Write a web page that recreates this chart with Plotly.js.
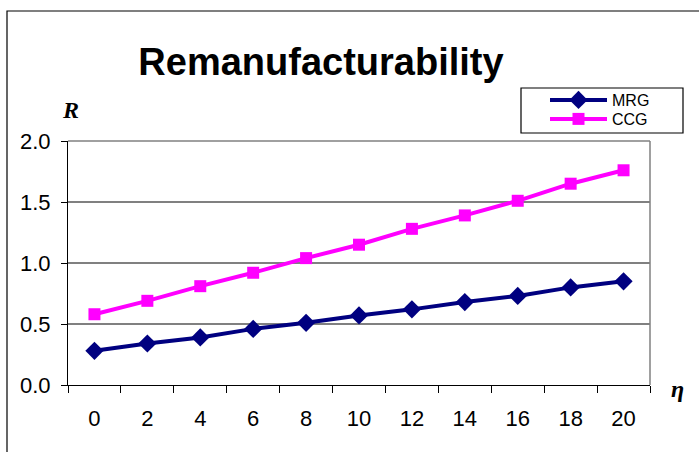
<!DOCTYPE html>
<html><head><meta charset="utf-8">
<script src="https://cdn.plot.ly/plotly-3.0.1.min.js"></script>
<style>html,body{margin:0;padding:0;background:#fff;}#chart{width:699px;height:452px;}</style>
</head><body><div id="chart"></div>
<script>
const categories = ['0','2','4','6','8','10','12','14','16','18','20'];
const mrgValues = [0.28,0.34,0.39,0.46,0.51,0.57,0.62,0.68,0.73,0.80,0.85];
const ccgValues = [0.58,0.69,0.81,0.92,1.04,1.15,1.28,1.39,1.51,1.65,1.76];
const yTickVals = [0,0.5,1.0,1.5,2.0];
const yTickText = ['0.0','0.5','1.0','1.5','2.0'];

const L=68,R=49,T=141,B=67,W=699-L-R,H=452-T-B;
const px=x=>(x-L)/W, py=y=>1-(y-T)/H;

const traces=[
 {x:categories,y:mrgValues,name:'MRG',type:'scatter',mode:'lines+markers',legend:'legend',
  line:{color:'#000080',width:4},marker:{symbol:'diamond',size:14,color:'#000080'}},
 {x:categories,y:ccgValues,name:'CCG',type:'scatter',mode:'lines+markers',legend:'legend2',
  line:{color:'#FF00FF',width:4},marker:{symbol:'square',size:12,color:'#FF00FF'}}
];
const legFont={size:16,family:'Liberation Sans, Arial'};
const layout={
 width:699,height:452,margin:{l:L,r:R,t:T,b:B},
 paper_bgcolor:'#fff',plot_bgcolor:'#fff',showlegend:true,
 font:{family:'Liberation Sans, Arial, sans-serif',color:'#000'},
 title:{text:'<b>Remanufacturability</b>',font:{size:38,color:'#000'},xref:'container',x:321/699,xanchor:'center',y:1-62/452,yanchor:'middle'},
 xaxis:{type:'category',range:[-0.5,10.5],tickson:'boundaries',ticks:'outside',ticklen:7,tickcolor:'#000',
  showline:true,linecolor:'#000',linewidth:1,showgrid:false,zeroline:false,
  tickfont:{size:22},ticklabelstandoff:14,fixedrange:true},
 yaxis:{range:[0,2],tickvals:yTickVals,ticktext:yTickText,ticks:'outside',ticklen:6,tickcolor:'#000',
  showline:true,linecolor:'#000',linewidth:1,showgrid:true,gridcolor:'#808080',gridwidth:1.3,zeroline:false,
  tickfont:{size:22},ticklabelstandoff:6,fixedrange:true},
 legend:{x:px(545),y:py(100),xanchor:'left',yanchor:'middle',borderwidth:0,bgcolor:'rgba(0,0,0,0)',
  font:legFont,itemwidth:57},
 legend2:{x:px(545),y:py(119),xanchor:'left',yanchor:'middle',borderwidth:0,bgcolor:'rgba(0,0,0,0)',
  font:legFont,itemwidth:57},
 shapes:[
  {type:'rect',xref:'paper',yref:'paper',x0:px(7),x1:px(720),y0:py(470),y1:py(11),line:{color:'#000',width:1.2}},
  {type:'rect',xref:'paper',yref:'paper',x0:px(521),x1:px(683),y0:py(133),y1:py(88),line:{color:'#000',width:1.2},fillcolor:'rgba(0,0,0,0)'},
  {type:'line',xref:'paper',yref:'paper',x0:1,x1:1,y0:0,y1:1,line:{color:'#808080',width:1.5}},
  {type:'line',xref:'paper',yref:'paper',x0:0,x1:1,y0:1,y1:1,line:{color:'#808080',width:1.5}}
 ],
 annotations:[
  {text:'<i><b>R</b></i>',xref:'paper',yref:'paper',x:px(70),y:py(110),xanchor:'center',yanchor:'middle',showarrow:false,font:{size:24,family:'Liberation Serif, Times New Roman, serif'}},
  {text:'<i><b>η</b></i>',xref:'paper',yref:'paper',x:px(677),y:py(389),xanchor:'center',yanchor:'middle',showarrow:false,font:{size:24,family:'Liberation Serif, Times New Roman, serif'}}
 ]
};
Plotly.newPlot('chart',traces,layout,{displayModeBar:false,staticPlot:true});
</script></body></html>
